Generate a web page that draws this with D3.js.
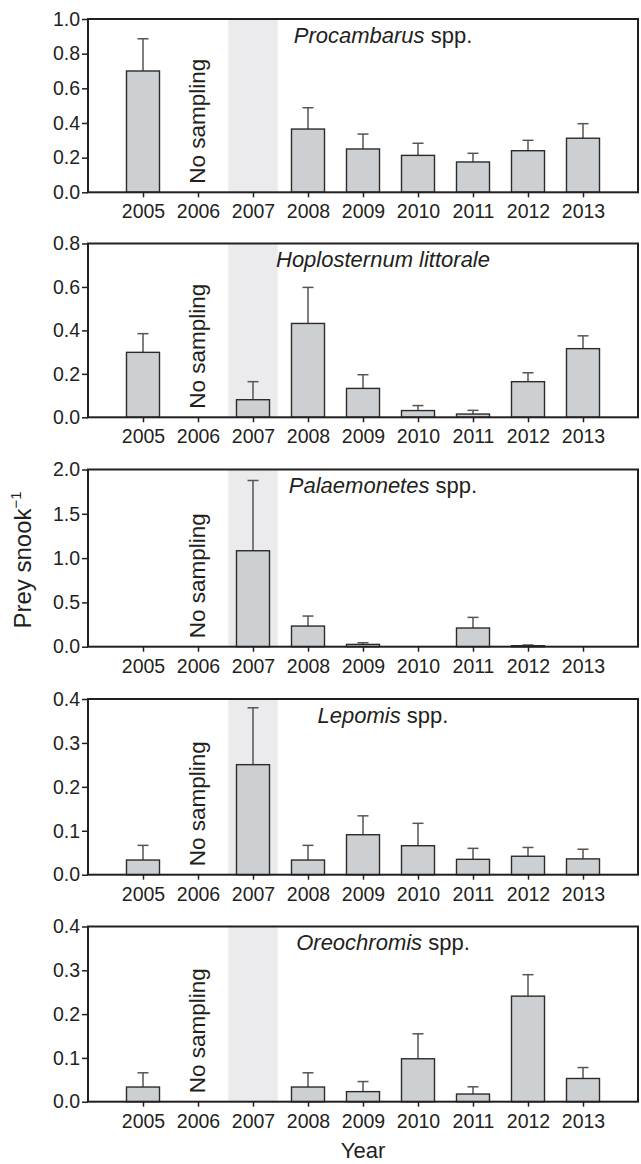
<!DOCTYPE html>
<html><head><meta charset="utf-8">
<script src="https://cdn.jsdelivr.net/npm/d3@7"></script>
<style>
body{margin:0;background:#fff}
svg{display:block}
text{font-family:"Liberation Sans",Arial,Helvetica,sans-serif;fill:#231f20}
</style>
</head><body>
<svg id="chart" width="641" height="1164"></svg>
<script>
// ---------- data ----------
const years = [2005, 2006, 2007, 2008, 2009, 2010, 2011, 2012, 2013];
const species = ["Procambarus", "Hoplosternum littorale", "Palaemonetes", "Lepomis", "Oreochromis"];
const speciesSuffix = [" spp.", "", " spp.", " spp.", " spp."];
// mean prey per snook (null = no bar)
const procambarusMean  = [0.700, null, null, 0.365, 0.250, 0.213, 0.175, 0.240, 0.312];
const procambarusTop   = [0.886, null, null, 0.488, 0.336, 0.283, 0.225, 0.300, 0.396];
const hoplosternumMean = [0.299, null, 0.081, 0.432, 0.133, 0.031, 0.015, 0.164, 0.316];
const hoplosternumTop  = [0.385, null, 0.164, 0.598, 0.196, 0.054, 0.032, 0.205, 0.375];
const palaemonetesMean = [null, null, 1.083, 0.233, 0.026, null, 0.211, 0.011, null];
const palaemonetesTop  = [null, null, 1.876, 0.346, 0.045, null, 0.331, 0.019, null];
const lepomisMean      = [0.0334, null, 0.2505, 0.0334, 0.091, 0.066, 0.035, 0.042, 0.036];
const lepomisTop       = [0.0668, null, 0.380, 0.0668, 0.134, 0.117, 0.060, 0.062, 0.058];
const oreochromisMean  = [0.0335, null, null, 0.0335, 0.023, 0.098, 0.0175, 0.241, 0.053];
const oreochromisTop   = [0.066, null, null, 0.066, 0.046, 0.155, 0.034, 0.290, 0.078];
const yMax = [1.0, 0.8, 2.0, 0.4, 0.4];
const yTicks = [
  [0, 0.2, 0.4, 0.6, 0.8, 1.0],
  [0, 0.2, 0.4, 0.6, 0.8],
  [0, 0.5, 1.0, 1.5, 2.0],
  [0, 0.1, 0.2, 0.3, 0.4],
  [0, 0.1, 0.2, 0.3, 0.4]
];
const noSamplingYear = 2006;
const shadedYear = 2007;
const yLabel = "Prey snook";
const xLabel = "Year";

const means = [procambarusMean, hoplosternumMean, palaemonetesMean, lepomisMean, oreochromisMean];
const tops  = [procambarusTop, hoplosternumTop, palaemonetesTop, lepomisTop, oreochromisTop];

// ---------- layout ----------
const L = 88, R = 638;
const panelTop = [19, 243.5, 469.5, 699, 926.5];
const panelBot = [192.3, 417.3, 646.7, 874.7, 1101.7];
const BAR_FILL = "#cdd0d3", BAR_STROKE = "#2b2b2b", ERR = "#555", SHADE = "#ebebed", FRAME = "#231f20";

const svg = d3.select("#chart");
const x = d3.scaleLinear().domain([2004, 2014]).range([L, R]);
const halfBar = 0.3, halfShade = 0.45;

species.forEach((sp, i) => {
  const y = d3.scaleLinear().domain([0, yMax[i]]).range([panelBot[i], panelTop[i]]);
  const g = svg.append("g");

  // shaded year
  g.append("rect")
    .attr("x", x(shadedYear - halfShade)).attr("y", panelTop[i])
    .attr("width", x(shadedYear + halfShade) - x(shadedYear - halfShade))
    .attr("height", panelBot[i] - panelTop[i])
    .attr("fill", SHADE);

  const data = years.map((yr, k) => ({yr, m: means[i][k], t: tops[i][k]})).filter(d => d.m != null);

  // error bars
  const eg = g.append("g").attr("stroke", ERR).attr("stroke-width", 1.5);
  data.forEach(d => {
    eg.append("line").attr("x1", x(d.yr)).attr("x2", x(d.yr)).attr("y1", y(d.m)).attr("y2", y(d.t));
    eg.append("line").attr("x1", x(d.yr) - 5.5).attr("x2", x(d.yr) + 5.5).attr("y1", y(d.t)).attr("y2", y(d.t));
  });

  // bars
  g.selectAll("rect.bar").data(data).enter().append("rect")
    .attr("class", "bar")
    .attr("x", d => x(d.yr - halfBar))
    .attr("width", d => x(d.yr + halfBar) - x(d.yr - halfBar))
    .attr("y", d => y(d.m))
    .attr("height", d => y(0) - y(d.m))
    .attr("fill", BAR_FILL).attr("stroke", BAR_STROKE).attr("stroke-width", 1.4);

  // axes
  const xa = g.append("g").attr("transform", `translate(0,${panelBot[i]})`)
    .call(d3.axisBottom(x).tickValues(years).tickFormat(d3.format("d")).tickSize(5).tickPadding(7));
  const ya = g.append("g").attr("transform", `translate(${L},0)`)
    .call(d3.axisLeft(y).tickValues(yTicks[i]).tickFormat(d3.format(".1f")).tickSize(6).tickPadding(2));
  [xa, ya].forEach(a => {
    a.select(".domain").remove();
    a.selectAll(".tick line").attr("stroke", FRAME).attr("stroke-width", 1.5);
    a.selectAll(".tick text").attr("font-size", 19.5).attr("fill", FRAME)
      .style("font-family", '"Liberation Sans",Arial,sans-serif');
  });

  // frame
  g.append("rect").attr("x", L).attr("y", panelTop[i]).attr("width", R - L).attr("height", panelBot[i] - panelTop[i])
    .attr("fill", "none").attr("stroke", FRAME).attr("stroke-width", 2);

  // title
  const t = g.append("text").attr("x", 383).attr("y", panelTop[i] + 23.5)
    .attr("text-anchor", "middle").attr("font-size", 22);
  t.append("tspan").attr("font-style", "italic").text(sp);
  if (speciesSuffix[i]) t.append("tspan").text(speciesSuffix[i]);

  // no sampling
  g.append("text")
    .attr("transform", `translate(${x(noSamplingYear) + 7},${panelBot[i] - 8.5}) rotate(-90)`)
    .attr("font-size", 22.5).text("No sampling");
});

// axis titles
const yl = svg.append("text").attr("transform", "translate(31,560) rotate(-90)")
  .attr("text-anchor", "middle").attr("font-size", 24);
yl.append("tspan").text(yLabel);
yl.append("tspan").attr("font-size", 15).attr("dy", -10).text("\u22121");

svg.append("text").attr("x", (L + R) / 2).attr("y", 1158).attr("text-anchor", "middle")
  .attr("font-size", 22).text(xLabel);
</script>
</body></html>
